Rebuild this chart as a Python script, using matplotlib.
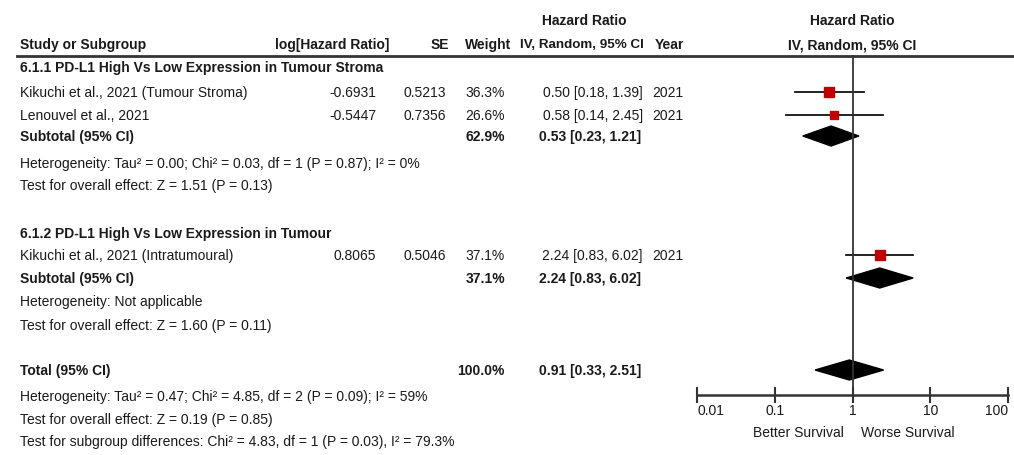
import matplotlib
matplotlib.use("Agg")
import matplotlib.pyplot as plt
from matplotlib.patches import Polygon

plt.rcParams['font.family'] = ['Liberation Sans Narrow', 'Liberation Sans', 'DejaVu Sans']

# study data
studies = ["Kikuchi et al., 2021 (Tumour Stroma)", "Lenouvel et al., 2021", "Kikuchi et al., 2021 (Intratumoural)"]
log_hr = ["-0.6931", "-0.5447", "0.8065"]
se = ["0.5213", "0.7356", "0.5046"]
weights = [36.3, 26.6, 37.1]
hr = [0.50, 0.58, 2.24]
ci_lo = [0.18, 0.14, 0.83]
ci_hi = [1.39, 2.45, 6.02]
years = ["2021", "2021", "2021"]

# pooled estimates: subtotal 1, subtotal 2, total
pooled_labels = ["Subtotal (95% CI)", "Subtotal (95% CI)", "Total (95% CI)"]
pooled_weight = ["62.9%", "37.1%", "100.0%"]
pooled_hr = [0.53, 2.24, 0.91]
pooled_lo = [0.23, 0.83, 0.33]
pooled_hi = [1.21, 6.02, 2.51]

groups = ["6.1.1 PD-L1 High Vs Low Expression in Tumour Stroma",
          "6.1.2 PD-L1 High Vs Low Expression in Tumour"]
notes = [
    ["Heterogeneity: Tau\u00b2 = 0.00; Chi\u00b2 = 0.03, df = 1 (P = 0.87); I\u00b2 = 0%",
     "Test for overall effect: Z = 1.51 (P = 0.13)"],
    ["Heterogeneity: Not applicable",
     "Test for overall effect: Z = 1.60 (P = 0.11)"],
    ["Heterogeneity: Tau\u00b2 = 0.47; Chi\u00b2 = 4.85, df = 2 (P = 0.09); I\u00b2 = 59%",
     "Test for overall effect: Z = 0.19 (P = 0.85)",
     "Test for subgroup differences: Chi\u00b2 = 4.83, df = 1 (P = 0.03), I\u00b2 = 79.3%"],
]
ticks = [0.01, 0.1, 1, 10, 100]
tick_labels = ["0.01", "0.1", "1", "10", "100"]

# row positions (pixels from top)
study_y = [93, 116, 256]
group_y = [68, 234]
pooled_y = [137, 279, 371]
notes_y = [[164, 186], [302, 326], [397, 420, 442]]

W, H = 1014, 456
fig = plt.figure(figsize=(W / 100, H / 100), dpi=100)
ax = fig.add_axes([0, 0, 1, 1])
ax.set_xlim(0, W)
ax.set_ylim(H, 0)
ax.axis('off')

fx = fig.add_axes([697 / W, 0, 311 / W, 1])
fx.set_xscale('log')
fx.set_xlim(0.01, 100)
fx.set_ylim(H, 0)
fx.axis('off')

tc = '#1a1a1a'
fs = 10

def txt(x, y, s, ha='left', bold=False, size=fs):
    ax.text(x, y, s, ha=ha, va='center', fontsize=size, color=tc,
            fontweight='bold' if bold else 'normal')

# headers
txt(584, 21, "Hazard Ratio", ha='center', bold=True)
txt(852, 21, "Hazard Ratio", ha='center', bold=True)
txt(20, 45, "Study or Subgroup", bold=True)
txt(389, 45, "log[Hazard Ratio]", ha='right', bold=True)
txt(449, 45, "SE", ha='right', bold=True)
txt(511, 45, "Weight", ha='right', bold=True)
txt(582, 45, "IV, Random, 95% CI", ha='center', bold=True, size=9.6)
txt(684, 45, "Year", ha='right', bold=True)
txt(852, 45, "IV, Random, 95% CI", ha='center', bold=True)
ax.plot([17, W], [57, 57], color='#333333', lw=2)

for g, y in zip(groups, group_y):
    txt(20, y, g, bold=True)

for i in range(len(studies)):
    y = study_y[i]
    txt(20, y, studies[i])
    txt(376, y, log_hr[i], ha='right')
    txt(446, y, se[i], ha='right')
    txt(505, y, f"{weights[i]:.1f}%", ha='right')
    txt(643, y, f"{hr[i]:.2f} [{ci_lo[i]:.2f}, {ci_hi[i]:.2f}]", ha='right')
    txt(683, y, years[i], ha='right')
    fx.plot([ci_lo[i], ci_hi[i]], [y, y], color='#111111', lw=1.3)
    side = weights[i] * 0.28
    fx.plot(hr[i], y, marker='s', ms=side * 0.72, color='#c00000', mec='#c00000')

for i in range(len(pooled_labels)):
    y = pooled_y[i]
    txt(20, y, pooled_labels[i], bold=True)
    txt(505, y, pooled_weight[i], ha='right', bold=True)
    txt(641, y, f"{pooled_hr[i]:.2f} [{pooled_lo[i]:.2f}, {pooled_hi[i]:.2f}]", ha='right', bold=True)
    d = Polygon([(pooled_lo[i], y), (pooled_hr[i], y - 10), (pooled_hi[i], y), (pooled_hr[i], y + 10)],
                closed=True, color='black')
    fx.add_patch(d)

for block, ys in zip(notes, notes_y):
    for s, y in zip(block, ys):
        txt(20, y, s)

# reference line and axis
fx.plot([1, 1], [57, 396], color='#333333', lw=1.3, clip_on=False)
fx.plot([0.01, 100], [396, 396], color='#333333', lw=1.8, clip_on=False)
for t, lab in zip(ticks, tick_labels):
    fx.plot([t, t], [389, 403], color='#333333', lw=1.5, clip_on=False)
    ha = 'left' if t == ticks[0] else ('right' if t == ticks[-1] else 'center')
    fx.text(t, 411, lab, ha=ha, va='center', fontsize=fs, color=tc)
fx.text(0.78, 433, "Better Survival", ha='right', va='center', fontsize=fs, color=tc)
fx.text(1.3, 433, "Worse Survival", ha='left', va='center', fontsize=fs, color=tc)

fig.savefig("out.png", dpi=100)
